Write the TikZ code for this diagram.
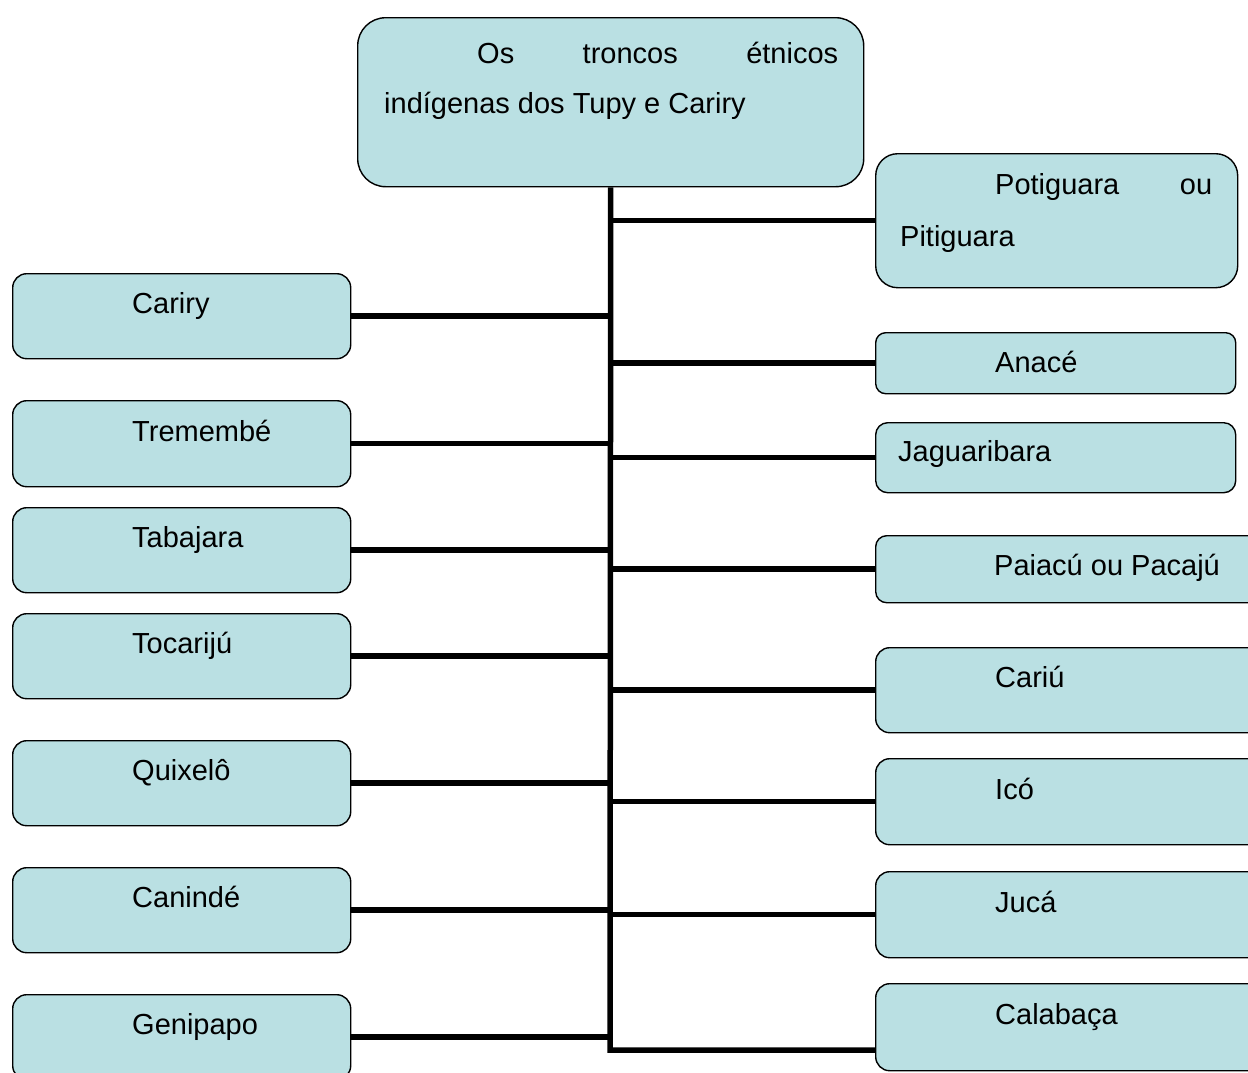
\documentclass[tikz,border=0pt]{standalone}
\usepackage{fontspec}
\setmainfont{Liberation Sans}
\definecolor{azulcaixa}{RGB}{186,224,227}

\begin{document}
\begin{tikzpicture}[x=1pt,y=-1pt,line join=miter,
    caixa/.style={draw=black,fill=azulcaixa,line width=1.4pt,rounded corners=#1,anchor=north west,inner sep=0pt},
    caixa/.default=14pt,
    texto/.style={anchor=base west,inner sep=0pt,font=\fontsize{29}{35}\selectfont},
    ligacao/.style={line width=5.5pt}]

    \useasboundingbox (0,0) rectangle (1248,1072);
    \clip (0,0) rectangle (1248,1072);

    % caixas
    \node[caixa=28pt, minimum width=506pt, minimum height=169pt] (tronco) at (357,17) {};
    \node[caixa=22pt, minimum width=362pt, minimum height=134pt] (potiguara) at (875,153) {};
    \node[caixa=10pt, minimum width=360pt, minimum height=61pt] (anace) at (875,332) {};
    \node[caixa=12pt, minimum width=360pt, minimum height=70pt] (jaguaribara) at (875,422) {};
    \node[caixa=11pt, minimum width=395pt, minimum height=67pt] (paiacu) at (875,535) {};
    \node[caixa, minimum width=395pt, minimum height=85pt] (cariu) at (875,647) {};
    \node[caixa, minimum width=395pt, minimum height=86pt] (ico) at (875,758) {};
    \node[caixa, minimum width=395pt, minimum height=86pt] (juca) at (875,871) {};
    \node[caixa, minimum width=395pt, minimum height=87pt] (calabaca) at (875,983) {};

    \node[caixa, minimum width=338pt, minimum height=85pt] (cariry) at (12,273) {};
    \node[caixa, minimum width=338pt, minimum height=86pt] (tremembe) at (12,400) {};
    \node[caixa, minimum width=338pt, minimum height=85pt] (tabajara) at (12,507) {};
    \node[caixa, minimum width=338pt, minimum height=85pt] (tocariju) at (12,613) {};
    \node[caixa, minimum width=338pt, minimum height=85pt] (quixelo) at (12,740) {};
    \node[caixa, minimum width=338pt, minimum height=85pt] (caninde) at (12,867) {};
    \node[caixa, minimum width=338pt, minimum height=85pt] (genipapo) at (12,994) {};

    % textos
    \node[texto] (t1) at (477,63) {\makebox[361pt][s]{Os troncos étnicos}};
    \node[texto] (t2) at (384,113) {indígenas dos Tupy e Cariry};
    \node[texto] (t3) at (995,194) {\makebox[217pt][s]{Potiguara ou}};
    \node[texto] (t4) at (900,246) {Pitiguara};
    \node[texto] (t5) at (995,372) {Anacé};
    \node[texto] (t6) at (898,461) {Jaguaribara};
    \node[texto] (t7) at (994,575) {Paiacú ou Pacajú};
    \node[texto] (t8) at (995,687) {Cariú};
    \node[texto] (t9) at (995,799) {Icó};
    \node[texto] (t10) at (995,912) {Jucá};
    \node[texto] (t11) at (995,1024) {Calabaça};

    \node[texto] (t12) at (132,313) {Cariry};
    \node[texto] (t13) at (132,441) {Tremembé};
    \node[texto] (t14) at (132,547) {Tabajara};
    \node[texto] (t15) at (132,653) {Tocarijú};
    \node[texto] (t16) at (132,780) {Quixelô};
    \node[texto] (t17) at (132,907) {Canindé};
    \node[texto] (t18) at (132,1034) {Genipapo};

    % ligacoes
    \coordinate (fim) at (610,1050);
    \draw[ligacao] (tronco.south) -- (fim) -- (fim -| calabaca.west);

    \draw[ligacao] (potiguara.west -| fim) -- (potiguara.west);
    \draw[ligacao] (anace.west -| fim) -- (anace.west);
    \draw[ligacao] (jaguaribara.west -| fim) -- (jaguaribara.west);
    \draw[ligacao] (paiacu.west -| fim) -- (paiacu.west);
    \draw[ligacao] (cariu.west -| fim) -- (cariu.west);
    \draw[ligacao] (ico.west -| fim) -- (ico.west);
    \draw[ligacao] (juca.west -| fim) -- (juca.west);

    \draw[ligacao] (cariry.east) -- (cariry.east -| fim);
    \draw[ligacao] (tremembe.east) -- (tremembe.east -| fim);
    \draw[ligacao] (tabajara.east) -- (tabajara.east -| fim);
    \draw[ligacao] (tocariju.east) -- (tocariju.east -| fim);
    \draw[ligacao] (quixelo.east) -- (quixelo.east -| fim);
    \draw[ligacao] (caninde.east) -- (caninde.east -| fim);
    \draw[ligacao] (genipapo.east) -- (genipapo.east -| fim);

\end{tikzpicture}
\end{document}
